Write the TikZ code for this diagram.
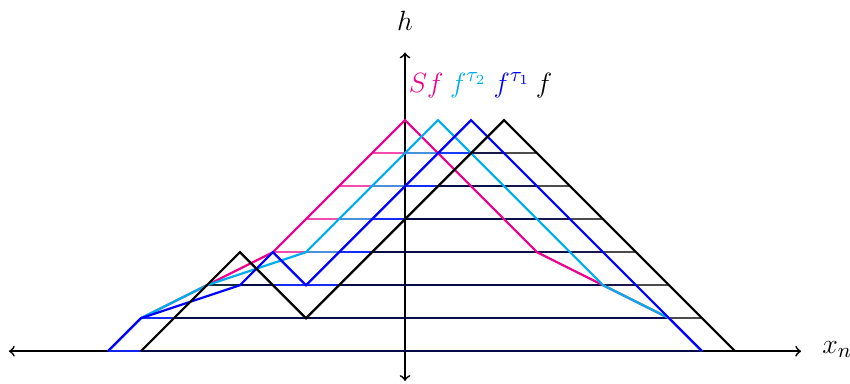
\documentclass[tikz,border=0pt]{standalone}
\definecolor{sfcol}{RGB}{236,0,140}
\definecolor{tatwo}{RGB}{0,174,239}
\definecolor{taone}{RGB}{0,0,255}
\begin{document}
\begin{tikzpicture}[x=0.5cm,y=0.5cm,
  fn/.style={line width=0.95pt, line join=miter},
  lvl/.style={line width=0.7pt, draw opacity=0.7},
  axis/.style={<->, line width=0.75pt},
  lab/.style={inner sep=0pt, font=\fontsize{12.5}{15}\selectfont}]
\useasboundingbox (-12.27,-0.97) rectangle (13.48,10.64);
% axes
\coordinate (xl) at (-12,0);
\coordinate (xr) at (12,0);
\coordinate (yb) at (0,-0.9);
\coordinate (yt) at (0,9.05);
\draw[axis] (xl) -- (xr);
\draw[axis] (yb) -- (yt);
\node[lab] (hlab) at (0,10) {$h$};
\node[lab, anchor=base west] (xlab) at (12.63,-0.06) {$x_n$};
% level sets
\foreach \a/\b/\t in {-9/9/0,-8/8/1,-6/6/2,-4/4/3,-3/3/4,-2/2/5,-1/1/6}
  \draw[lvl, sfcol] (\a,\t) -- (\b,\t);
\foreach \a/\b/\t in {-9/9/0,-8/8/1,-6/6/2,-3/5/3,-2/4/4,-1/3/5,0/2/6}
  \draw[lvl, tatwo] (\a,\t) -- (\b,\t);
\foreach \a/\b/\t in {-9/9/0,-8/8/1,-5/7/2,-2/6/3,-1/5/4,0/4/5,1/3/6}
  \draw[lvl, taone] (\a,\t) -- (\b,\t);
\foreach \a/\b/\t in {-8/10/0,-7/9/1,-6/-4/2,-2/8/2,-1/7/3,0/6/4,1/5/5,2/4/6}
  \draw[lvl, black] (\a,\t) -- (\b,\t);
% functions
\draw[fn, sfcol] (-9,0) -- (-8,1) -- (-6,2) -- (-4,3) -- (0,7) -- (4,3) -- (6,2) -- (8,1) -- (9,0);
\draw[fn, tatwo] (-9,0) -- (-8,1) -- (-6,2) -- (-3,3) -- (1,7) -- (6,2) -- (8,1) -- (9,0);
\draw[fn, taone] (-9,0) -- (-8,1) -- (-5,2) -- (-4,3) -- (-3,2) -- (2,7) -- (9,0);
\draw[fn, black] (-8,0) -- (-5,3) -- (-3,1) -- (3,7) -- (10,0);
% labels
\node[lab, anchor=base, text=sfcol] (lsf) at (0.64,7.85) {$Sf$};
\node[lab, anchor=base, text=tatwo] (lt2) at (1.92,7.85) {$f^{\tau_2}$};
\node[lab, anchor=base, text=taone] (lt1) at (3.24,7.85) {$f^{\tau_1}$};
\node[lab, anchor=base, text=black] (lf) at (4.21,7.85) {$f$};
\end{tikzpicture}
\end{document}
